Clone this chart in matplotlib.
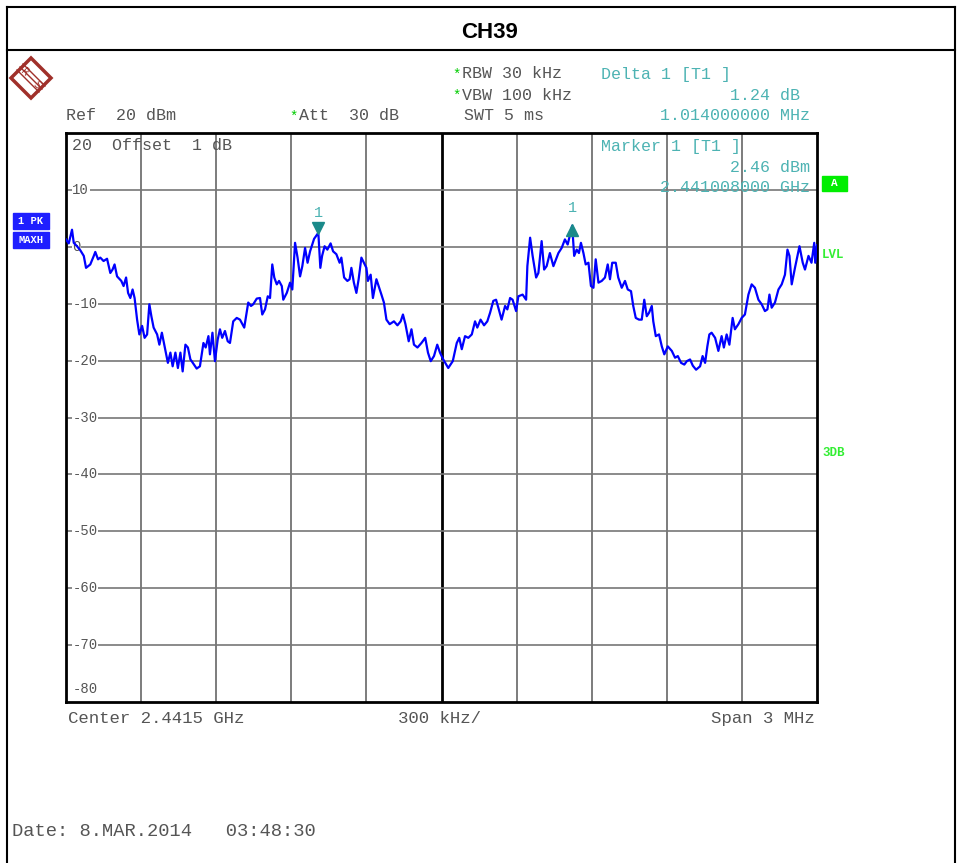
import matplotlib.pyplot as plt
from matplotlib.lines import Line2D
from matplotlib.patches import Polygon, Rectangle

# Spectrum trace (max hold)
START_MHZ = 2440.0
SPAN_MHZ = 3.0
freq_offset_mhz = [
    0.000, 0.011, 0.024, 0.031, 0.044, 0.057, 0.071, 0.080, 0.097, 0.111,
    0.117, 0.128, 0.137, 0.150, 0.164, 0.177, 0.186, 0.194, 0.204, 0.221,
    0.230, 0.240, 0.248, 0.257, 0.266, 0.274, 0.284, 0.293, 0.304, 0.314,
    0.324, 0.333, 0.341, 0.350, 0.364, 0.373, 0.383, 0.394, 0.407, 0.417,
    0.426, 0.437, 0.447, 0.457, 0.466, 0.477, 0.487, 0.497, 0.502, 0.522,
    0.535, 0.549, 0.558, 0.569, 0.575, 0.585, 0.595, 0.606, 0.615, 0.624,
    0.635, 0.646, 0.655, 0.668, 0.682, 0.695, 0.712, 0.728, 0.739, 0.748,
    0.762, 0.775, 0.784, 0.795, 0.806, 0.815, 0.824, 0.832, 0.842, 0.851,
    0.862, 0.868, 0.882, 0.895, 0.904, 0.915, 0.925, 0.935, 0.944, 0.955,
    0.965, 0.975, 0.991, 1.008, 1.016, 1.023, 1.033, 1.044, 1.057, 1.067,
    1.080, 1.093, 1.100, 1.111, 1.124, 1.133, 1.140, 1.150, 1.160, 1.169,
    1.180, 1.190, 1.200, 1.206, 1.217, 1.226, 1.240, 1.249, 1.260, 1.270,
    1.280, 1.293, 1.310, 1.324, 1.337, 1.346, 1.356, 1.369, 1.380, 1.390,
    1.404, 1.420, 1.435, 1.446, 1.457, 1.470, 1.483, 1.494, 1.507, 1.527,
    1.545, 1.561, 1.571, 1.581, 1.594, 1.607, 1.621, 1.634, 1.643, 1.656,
    1.670, 1.683, 1.694, 1.707, 1.718, 1.727, 1.740, 1.754, 1.763, 1.774,
    1.784, 1.798, 1.807, 1.824, 1.838, 1.843, 1.854, 1.864, 1.878, 1.887,
    1.900, 1.910, 1.920, 1.933, 1.947, 1.967, 1.980, 1.993, 2.004, 2.022,
    2.030, 2.040, 2.049, 2.057, 2.067, 2.076, 2.087, 2.097, 2.107, 2.116,
    2.127, 2.140, 2.153, 2.164, 2.173, 2.182, 2.196, 2.206, 2.220, 2.233,
    2.244, 2.257, 2.266, 2.276, 2.289, 2.300, 2.310, 2.320, 2.329, 2.340,
    2.346, 2.356, 2.369, 2.380, 2.390, 2.404, 2.420, 2.433, 2.444, 2.457,
    2.470, 2.480, 2.493, 2.504, 2.517, 2.533, 2.543, 2.553, 2.562, 2.570,
    2.579, 2.593, 2.606, 2.619, 2.628, 2.639, 2.650, 2.663, 2.672, 2.686,
    2.699, 2.712, 2.726, 2.739, 2.752, 2.766, 2.779, 2.792, 2.802, 2.810,
    2.819, 2.832, 2.846, 2.859, 2.872, 2.882, 2.890, 2.899, 2.912, 2.930,
    2.943, 2.952, 2.966, 2.978, 2.989, 2.993, 3.000,
]
level_dbm = [
    1.3, 0.6, 3.0, 0.7, 0.1, -0.6, -1.6, -3.7, -3.1, -1.6,
    -0.9, -2.2, -1.9, -2.5, -2.1, -4.6, -4.0, -3.1, -5.2, -6.0,
    -6.9, -5.4, -8.1, -9.0, -7.5, -9.0, -12.8, -15.4, -13.9, -16.0,
    -15.4, -10.1, -12.2, -14.2, -15.4, -17.2, -15.1, -17.5, -20.4, -18.6,
    -21.0, -18.6, -21.3, -18.6, -21.9, -17.2, -17.7, -19.8, -20.1, -21.4,
    -21.0, -16.9, -17.7, -15.7, -18.9, -15.1, -20.1, -16.3, -14.5, -16.0,
    -14.8, -16.6, -16.9, -13.1, -12.5, -12.8, -14.2, -9.8, -10.4, -10.1,
    -9.1, -9.0, -11.9, -11.0, -8.7, -9.0, -3.1, -5.4, -6.6, -6.0,
    -6.9, -9.3, -8.1, -6.3, -7.5, 0.7, -1.9, -5.2, -3.4, -0.2,
    -2.8, -0.8, 1.4, 2.46, -3.7, -1.6, 0.1, -0.5, 0.6, -0.8,
    -1.3, -2.8, -1.9, -5.4, -6.0, -5.7, -3.7, -6.3, -8.1, -5.7,
    -1.9, -2.8, -3.7, -6.0, -4.9, -9.0, -5.7, -6.9, -8.4, -9.8,
    -12.8, -13.6, -13.1, -13.8, -13.1, -11.9, -13.6, -16.6, -14.5, -17.2,
    -17.7, -16.9, -16.0, -18.6, -20.1, -19.2, -17.2, -18.6, -19.8, -21.3,
    -20.1, -16.9, -16.0, -18.0, -15.7, -16.0, -15.4, -13.1, -14.2, -12.8,
    -13.8, -13.1, -11.6, -9.5, -9.3, -10.7, -12.8, -10.4, -11.0, -9.0,
    -9.3, -11.3, -8.7, -8.4, -9.3, -3.4, 1.6, -1.6, -5.4, -4.6,
    1.0, -4.0, -3.4, -1.1, -3.4, -1.1, -0.2, 1.3, 0.4, 3.70,
    -1.6, -0.5, -1.1, 0.7, -1.1, -3.1, -2.8, -6.9, -7.2, -2.2,
    -6.3, -6.0, -5.4, -3.1, -5.7, -2.8, -2.8, -5.4, -7.2, -6.0,
    -7.5, -7.8, -10.4, -12.5, -12.8, -12.8, -9.3, -12.2, -11.6, -10.4,
    -13.1, -15.7, -15.4, -17.5, -18.9, -17.5, -18.3, -19.5, -19.2, -20.4,
    -20.7, -20.1, -19.8, -20.9, -21.6, -21.0, -19.2, -20.4, -17.5, -15.4,
    -15.1, -16.0, -18.3, -15.7, -17.7, -15.4, -17.2, -12.5, -14.5, -13.6,
    -12.5, -11.9, -8.4, -6.6, -7.2, -9.3, -10.1, -11.3, -11.0, -8.4,
    -10.7, -9.8, -7.5, -6.6, -4.9, -0.5, -1.6, -6.6, -3.7, 0.1,
    -2.8, -4.0, -1.6, -2.8, 0.7, -2.8, 0.3,
]

marker_mhz = [1.008, 2.022]
marker_dbm = [2.46, 3.70]

y_ticks = [10, 0, -10, -20, -30, -40, -50, -60, -70]

W, H = 961, 863
GRAY = "#555555"
TEAL = "#4db3b3"
MONO = "Liberation Mono"


def fx(x):
    return x / W


def fy(y):
    return 1 - y / H


def label(x, y, s, color=GRAY, ha="left", size=12, **kw):
    fig.text(fx(x), fy(y), s, color=color, ha=ha, va="center",
             family=MONO, fontsize=size, **kw)


fig = plt.figure(figsize=(W / 100, H / 100), dpi=100)

# page frame and title bar
for xs, ys in [((7, 7), (7, H)), ((955, 955), (7, H)), ((7, 955), (7, 7)), ((7, 955), (50, 50))]:
    fig.add_artist(Line2D([fx(v) for v in xs], [fy(v) for v in ys], color="black", lw=1.5))
fig.text(fx(490), fy(33), "CH39", ha="center", va="center", fontsize=16,
         fontweight="bold", family="Liberation Sans")

# plot area
ax = fig.add_axes([fx(66), fy(702), (817 - 66) / W, (702 - 133) / H])
ax.set_xlim(START_MHZ, START_MHZ + SPAN_MHZ)
ax.set_ylim(-80, 20)
ax.set_xticks([])
ax.set_yticks([])
for sp in ax.spines.values():
    sp.set_linewidth(2)

for i in range(1, 10):
    xv = START_MHZ + SPAN_MHZ * i / 10
    if i == 5:
        ax.axvline(xv, color="black", lw=2, zorder=1)
    else:
        ax.axvline(xv, color="#666666", lw=1.2, zorder=1)
for yv in y_ticks:
    ax.axhline(yv, color="#777777", lw=1.2, zorder=1)
    ax.text(START_MHZ + 0.025, yv, str(yv), color=GRAY, family=MONO, fontsize=10,
            va="center", ha="left", zorder=2,
            bbox=dict(facecolor="white", edgecolor="none", pad=0.5))
ax.text(START_MHZ + 0.025, -77.8, "-80", color=GRAY, family=MONO, fontsize=10,
        va="center", ha="left")
ax.text(START_MHZ + 0.025, 17.8, "20  Offset  1 dB", color=GRAY, family=MONO,
        fontsize=12, va="center", ha="left", zorder=2)

trace_x = [START_MHZ + f for f in freq_offset_mhz]
ax.plot(trace_x, level_dbm, color="#0000ff", lw=1.6, zorder=3)

# markers
mk_x = [START_MHZ + f for f in marker_mhz]
ax.plot(mk_x[0], marker_dbm[0] + 0.9, marker="v", color="#1a8a8a", ms=8, zorder=4)
ax.plot(mk_x[1], marker_dbm[1] - 0.7, marker="^", color="#1a8a8a", ms=8, zorder=4)
ax.text(mk_x[0], marker_dbm[0] + 3.4, "1", color=TEAL, family=MONO, fontsize=11,
        ha="center", va="center")
ax.text(mk_x[1], marker_dbm[1] + 3.1, "1", color=TEAL, family=MONO, fontsize=11,
        ha="center", va="center")

# header texts
label(452, 75, "*", color="#00cc00", size=10)
label(462, 74, "RBW 30 kHz")
label(452, 96, "*", color="#00cc00", size=10)
label(462, 95, "VBW 100 kHz")
label(464, 116, "SWT 5 ms")
label(66, 116, "Ref  20 dBm")
label(289, 117, "*", color="#00cc00", size=10)
label(299, 116, "Att  30 dB")
label(601, 74, "Delta 1 [T1 ]", color=TEAL)
label(800, 95, "1.24 dB", color=TEAL, ha="right")
label(810, 116, "1.014000000 MHz", color=TEAL, ha="right")
label(601, 146, "Marker 1 [T1 ]", color=TEAL)
label(810, 167, "2.46 dBm", color=TEAL, ha="right")
label(810, 188, "2.441008000 GHz", color=TEAL, ha="right")

# footer texts
label(68, 718, "Center 2.4415 GHz", size=12.5)
label(440, 718, "300 kHz/", ha="center", size=12.5)
label(815, 718, "Span 3 MHz", ha="right", size=12.5)
label(12, 831, "Date: 8.MAR.2014   03:48:30", size=13.5)

# trace info boxes
for yy, s in [(221, "1 PK"), (240, "MAXH")]:
    fig.add_artist(Rectangle((fx(13), fy(yy + 8)), 36 / W, 16 / H, color="#1f1fff"))
    fig.text(fx(31), fy(yy), s, color="white", family=MONO, fontsize=7.5,
             fontweight="bold", ha="center", va="center")

# right side indicators
fig.add_artist(Rectangle((fx(822), fy(191)), 25 / W, 15 / H, color="#00ee00"))
fig.text(fx(834.5), fy(183.5), "A", color="white", family=MONO, fontsize=8,
         fontweight="bold", ha="center", va="center")
fig.text(fx(822), fy(255), "LVL", color="#33ee33", family=MONO, fontsize=9,
         fontweight="bold", ha="left", va="center")
fig.text(fx(822), fy(453), "3DB", color="#33ee33", family=MONO, fontsize=9,
         fontweight="bold", ha="left", va="center")

# R&S logo
cx, cy, r = 31, 78, 20
logo = Polygon([(fx(cx), fy(cy - r)), (fx(cx + r), fy(cy)), (fx(cx), fy(cy + r)),
                (fx(cx - r), fy(cy))], closed=True, fill=False,
               edgecolor="#a0302a", lw=2.5)
fig.add_artist(logo)
for d in (-3, 0, 3):
    fig.add_artist(Line2D([fx(cx - 11 + d), fx(cx + 11 + d)],
                          [fy(cy - 11 - d), fy(cy + 11 - d)], color="#a0302a", lw=1))
fig.text(fx(cx - 6), fy(cy - 6), "R", color="#a0302a", fontsize=7,
         ha="center", va="center", rotation=-45)
fig.text(fx(cx + 6), fy(cy + 7), "S", color="#a0302a", fontsize=7,
         ha="center", va="center", rotation=-45)

fig.savefig("out.png", dpi=100)
